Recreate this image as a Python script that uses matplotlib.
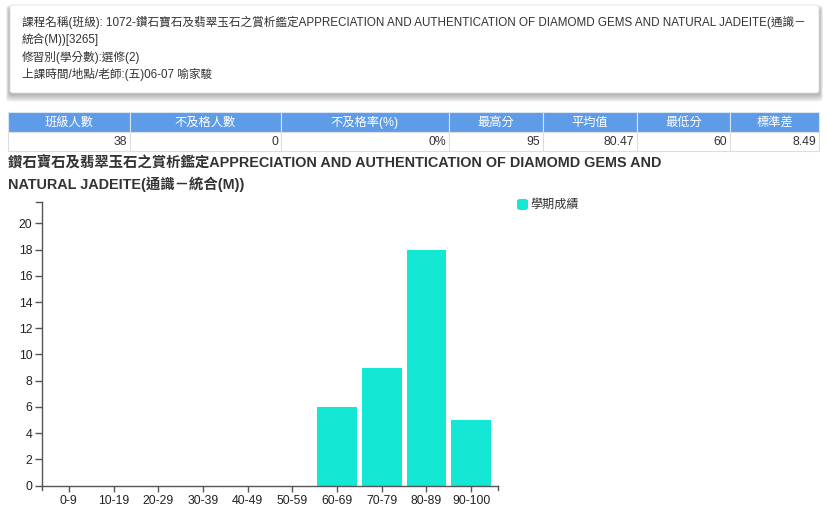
import matplotlib.pyplot as plt
from matplotlib.patches import Rectangle, FancyBboxPatch
from matplotlib.lines import Line2D

plt.rcParams['font.family'] = ['Liberation Sans', 'Noto Sans CJK TC', 'DejaVu Sans']

W, H = 828, 528

# 課程資訊
info_lines = [
    "課程名稱(班級): 1072-鑽石寶石及翡翠玉石之賞析鑑定APPRECIATION AND AUTHENTICATION OF DIAMOMD GEMS AND NATURAL JADEITE(通識－",
    "統合(M))[3265]",
    "修習別(學分數):選修(2)",
    "上課時間/地點/老師:(五)06-07 喻家駿",
]

# 統計表
table_headers = ["班級人數", "不及格人數", "不及格率(%)", "最高分", "平均值", "最低分", "標準差"]
table_values = ["38", "0", "0%", "95", "80.47", "60", "8.49"]
col_edges = [8, 130, 281, 449, 543, 637, 730, 819]

# 成績分布
chart_title = ["鑽石寶石及翡翠玉石之賞析鑑定APPRECIATION AND AUTHENTICATION OF DIAMOMD GEMS AND",
               "NATURAL JADEITE(通識－統合(M))"]
bins = ["0-9", "10-19", "20-29", "30-39", "40-49", "50-59", "60-69", "70-79", "80-89", "90-100"]
counts = [0, 0, 0, 0, 0, 0, 6, 9, 18, 5]
series_name = "學期成績"

bar_color = "#14e8d4"
head_color = "#5f9ce8"


def fx(x):
    return x / W


def fy(y):
    return 1 - y / H


fig = plt.figure(figsize=(W / 100, H / 100), dpi=100)

# 上方資訊框（含柔和陰影）
for k in range(10, 0, -1):
    fig.patches.append(FancyBboxPatch((fx(10 - k * 0.4), fy(93 + k * 0.9)), fx(809 + k * 0.8), (84 + k * 1.3) / H,
                                      boxstyle="round,pad=0,rounding_size=0.006", transform=fig.transFigure,
                                      facecolor="black", edgecolor="none", alpha=0.035))
fig.patches.append(FancyBboxPatch((fx(10), fy(93)), fx(809), 88 / H,
                                  boxstyle="round,pad=0,rounding_size=0.004", transform=fig.transFigure,
                                  facecolor="white", edgecolor="#e2e2e2", linewidth=0.6))
for i, line in enumerate(info_lines):
    fig.text(fx(22), fy(22 + i * 17.5), line, fontsize=8.4, color="#333333", va="center", ha="left")

# 統計表
for i, h in enumerate(table_headers):
    x0, x1 = col_edges[i], col_edges[i + 1]
    fig.patches.append(Rectangle((fx(x0), fy(132)), fx(x1 - x0), 20 / H, transform=fig.transFigure,
                                 facecolor=head_color, edgecolor="#d8e4f4", linewidth=0.8))
    fig.text(fx((x0 + x1) / 2), fy(122.5), h, fontsize=8.8, color="white", ha="center", va="center")
    fig.patches.append(Rectangle((fx(x0), fy(151.5)), fx(x1 - x0), 19.5 / H, transform=fig.transFigure,
                                 facecolor="white", edgecolor="#dddddd", linewidth=0.8))
    fig.text(fx(x1 - 3), fy(142), table_values[i], fontsize=8.8, color="#333333", ha="right", va="center")

# 圖表標題
for i, t in enumerate(chart_title):
    fig.text(fx(8), fy(163 + i * 21), t, fontsize=10.4, fontweight="bold", color="#333333",
             ha="left", va="center")

# 長條圖
ax = fig.add_axes([fx(42), fy(485.7), fx(456), (485.7 - 202.3) / H])
x = range(len(bins))
ax.bar(x, counts, width=0.89, color=bar_color)
ax.set_xlim(-0.6, len(bins) - 0.4)
ax.set_ylim(0, max(counts) * 1.2)
ax.set_xticks(list(x))
ax.set_xticklabels(bins)
ax.set_yticks(range(0, 21, 2))
for s in ["top", "right"]:
    ax.spines[s].set_visible(False)
for s in ["left", "bottom"]:
    ax.spines[s].set_color("#555555")
    ax.spines[s].set_linewidth(1)
ax.tick_params(axis="both", colors="#555555", labelcolor="#222222", labelsize=8.8, length=5, width=1, pad=2)
ax.tick_params(axis="x", length=4, pad=3)
ax.set_facecolor("none")

# 軸端刻度
ax.add_line(Line2D([0, -0.013], [1, 1], transform=ax.transAxes, color="#555555", lw=1, clip_on=False))
ax.add_line(Line2D([0, 0], [0, -0.016], transform=ax.transAxes, color="#555555", lw=1, clip_on=False))
ax.add_line(Line2D([1, 1], [0, -0.016], transform=ax.transAxes, color="#555555", lw=1, clip_on=False))

# 圖例
fig.patches.append(FancyBboxPatch((fx(517), fy(210)), fx(11), 11 / H,
                                  boxstyle="round,pad=0,rounding_size=0.004", transform=fig.transFigure,
                                  facecolor=bar_color, edgecolor="none"))
fig.text(fx(530), fy(204.5), series_name, fontsize=8.7, color="#333333", ha="left", va="center")

fig.savefig("out.png", dpi=100)
